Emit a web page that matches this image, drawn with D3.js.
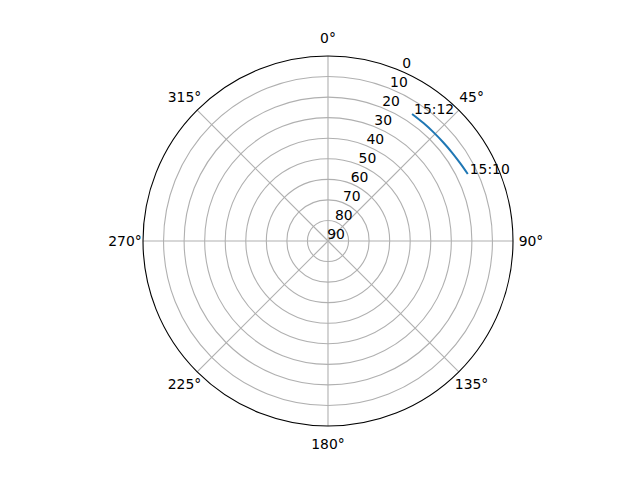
<!doctype html>
<html>
<head>
<meta charset="UTF-8">
<script src="https://d3js.org/d3.v7.min.js"></script>
<style>
  body { margin: 0; background: #fff; }
  text { font-family: "DejaVu Sans", sans-serif; font-size: 13.9px; fill: #000; }
</style>
</head>
<body>
<script>
// track of one satellite, sky plot (azimuth clockwise from north, elevation inverted)
var times = ["15:10:00", "15:10:20", "15:10:40", "15:11:00", "15:11:20", "15:11:40", "15:12:00"];
var azimuth = [64.4, 59.5, 54.5, 49.5, 44.2, 39.0, 33.5];
var elevation = [14.6, 15.4, 15.9, 16.2, 16.3, 16.2, 15.9];
var markTimes = ["15:10", "15:12"];
var markIndex = [0, 6];

var thetaTicks = [0, 45, 90, 135, 180, 225, 270, 315];
var rTicks = [0, 10, 20, 30, 40, 50, 60, 70, 80, 90];

var w = 640, h = 480, cx = 328, cy = 241, R = 185;

var svg = d3.select("body").append("svg").attr("width", w).attr("height", h);
var g = svg.append("g").attr("transform", "translate(" + cx + "," + cy + ")");

var r = d3.scaleLinear().domain([0, 90]).range([R, 0]);
var rad = function(d) { return d * Math.PI / 180; };

// circular grid
g.selectAll("circle.grid").data(rTicks.filter(function(d) { return d > 0 && d < 90; }))
  .enter().append("circle")
  .attr("r", function(d) { return r(d); })
  .attr("fill", "none").attr("stroke", "#b0b0b0").attr("stroke-width", 1.1);

// angular grid
g.selectAll("line.grid").data(thetaTicks).enter().append("line")
  .attr("x1", 0).attr("y1", 0)
  .attr("x2", function(d) { return R * Math.sin(rad(d)); })
  .attr("y2", function(d) { return -R * Math.cos(rad(d)); })
  .attr("stroke", "#b0b0b0").attr("stroke-width", 1.1);

// spine
g.append("circle").attr("r", R).attr("fill", "none").attr("stroke", "#000").attr("stroke-width", 1.1);

// theta labels
g.selectAll("text.theta").data(thetaTicks).enter().append("text")
  .attr("x", function(d) { return 203 * Math.sin(rad(d)); })
  .attr("y", function(d) { return -203 * Math.cos(rad(d)); })
  .attr("text-anchor", "middle").attr("dy", "0.35em")
  .text(function(d) { return d + "°"; });

// radial labels along 22.5 deg
g.selectAll("text.rlab").data(rTicks).enter().append("text")
  .attr("x", function(d) { return r(d) * Math.sin(rad(22.5)) + 8; })
  .attr("y", function(d) { return -r(d) * Math.cos(rad(22.5)) - 7; })
  .attr("text-anchor", "middle").attr("dy", "0.35em")
  .text(function(d) { return d; });

// track
var pts = azimuth.map(function(a, i) { return [rad(a), r(elevation[i])]; });
var line = d3.lineRadial().curve(d3.curveCatmullRom);
g.append("path").attr("d", line(pts))
  .attr("fill", "none").attr("stroke", "#1f77b4").attr("stroke-width", 2);

// time labels
g.selectAll("text.time").data(markIndex).enter().append("text")
  .attr("x", function(d) { return r(elevation[d]) * Math.sin(rad(azimuth[d])) + 2; })
  .attr("y", function(d) { return -r(elevation[d]) * Math.cos(rad(azimuth[d])); })
  .text(function(d, i) { return markTimes[i]; });
</script>
</body>
</html>
